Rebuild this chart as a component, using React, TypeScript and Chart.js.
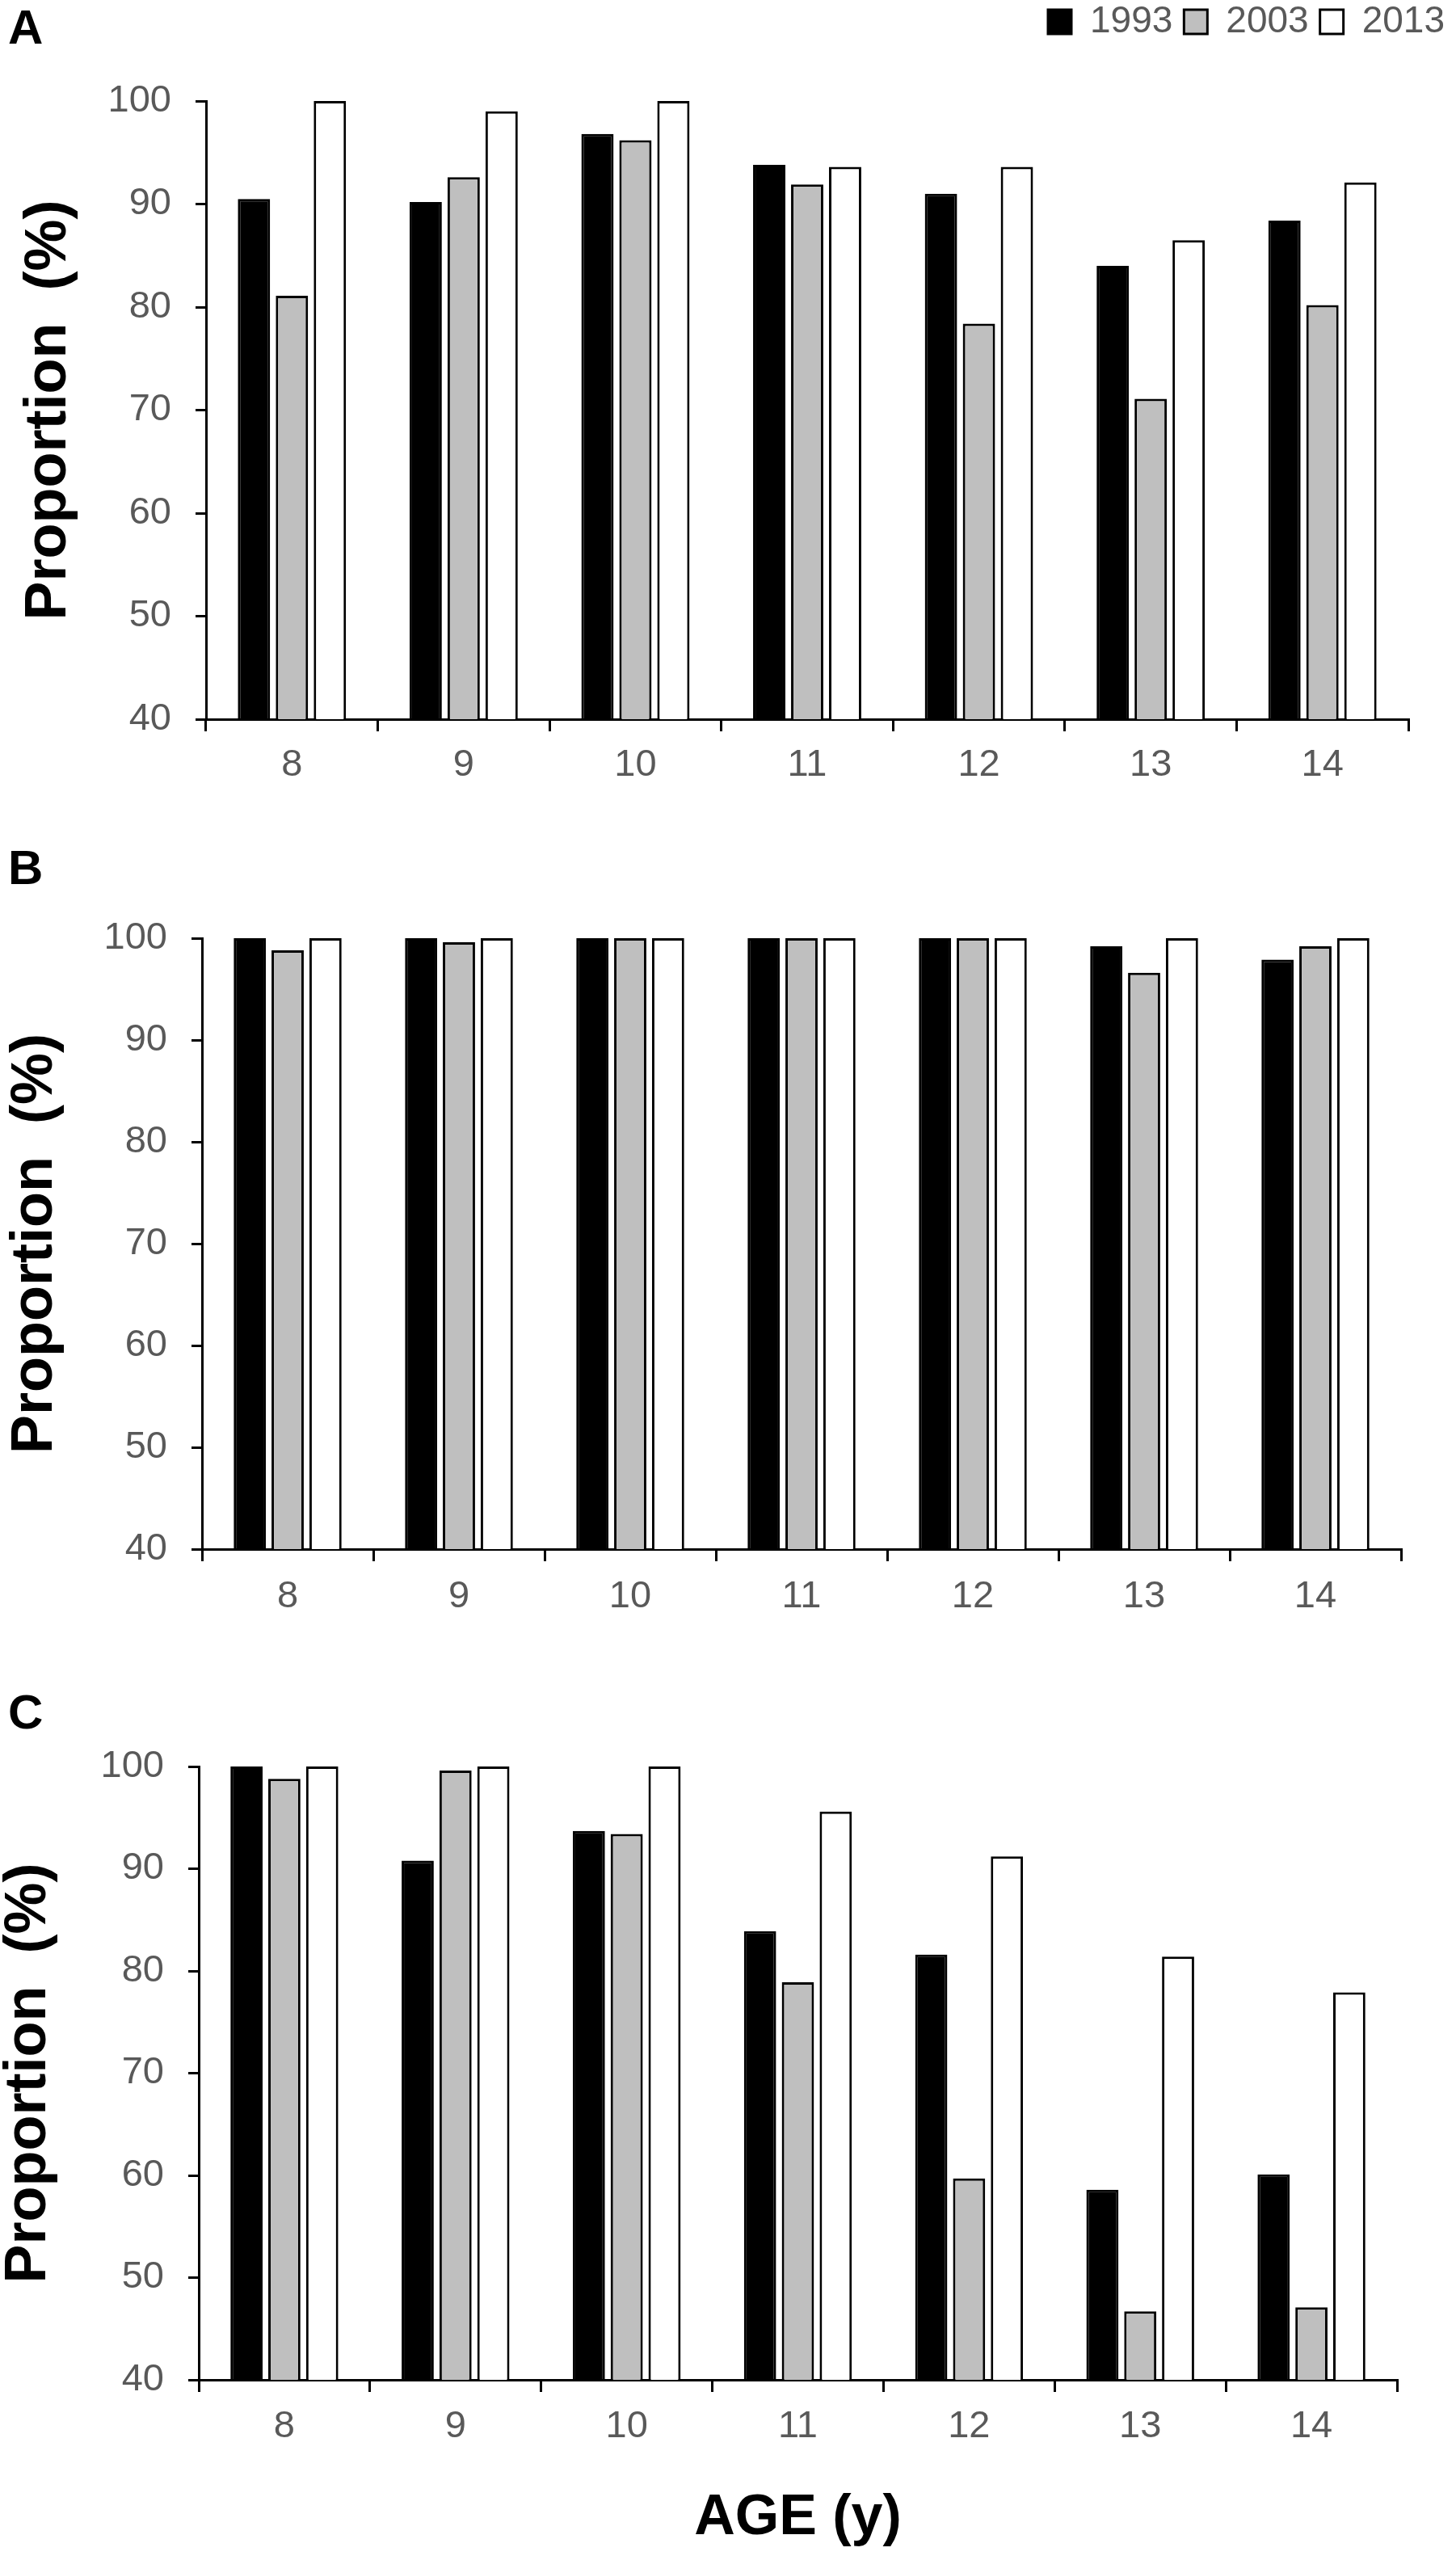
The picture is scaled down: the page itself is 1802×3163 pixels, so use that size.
import React, { useEffect, useRef } from 'react';
import { Chart, registerables } from 'chart.js';
import type { ChartConfiguration, Scale } from 'chart.js';

Chart.register(...registerables);

// ages on the x axis, one group of three bars each
const ages = ['8', '9', '10', '11', '12', '13', '14'];
const years = ['1993', '2003', '2013'];
const yearFills = ['#000000', '#bfbfbf', '#ffffff'];

// panel A
const a1993 = [90.5, 90.2, 96.8, 93.8, 91.0, 84.0, 88.4];
const a2003 = [81.1, 92.6, 96.2, 91.9, 78.4, 71.1, 80.2];
const a2013 = [100, 99.0, 100, 93.6, 93.6, 86.5, 92.1];

// panel B
const b1993 = [100, 100, 100, 100, 100, 99.2, 97.9];
const b2003 = [98.8, 99.6, 100, 100, 100, 96.6, 99.2];
const b2013 = [100, 100, 100, 100, 100, 100, 100];

// panel C
const c1993 = [100, 90.8, 93.7, 83.9, 81.6, 58.6, 60.1];
const c2003 = [98.8, 99.6, 93.4, 78.9, 59.7, 46.7, 47.1];
const c2013 = [100, 100, 100, 95.6, 91.2, 81.4, 77.9];

const yMin = 40;
const yMax = 100;
const yStep = 10;

const PAGE_W = 1802;
const FONT = '"Liberation Sans", Arial, Helvetica, sans-serif';
const GREY = '#595959';

interface PanelProps {
  letter: string;
  values: number[][];
  top: number; // canvas top on page
  height: number; // canvas height
  areaTop: number; // chart area, canvas coords
  areaBottom: number;
  areaLeft: number;
  areaRight: number;
  titlePad: number;
  tickPad: number;
  letterTop: number;
  legend?: boolean;
  xTitle?: string;
}

const Panel: React.FC<PanelProps> = (p) => {
  const chartRef = useRef<HTMLCanvasElement | null>(null);
  const chartInstance = useRef<Chart | null>(null);

  useEffect(() => {
    if (!chartRef.current) return;
    if (chartInstance.current) chartInstance.current.destroy();

    const scales: any = {
      x: {
        type: 'category',
        grid: {
          display: true,
          drawOnChartArea: false,
          drawTicks: true,
          tickLength: 15,
          color: '#000',
          lineWidth: 3,
          offset: true,
        },
        border: { display: true, color: '#000', width: 3 },
        ticks: {
          color: GREY,
          font: { family: FONT, size: 47 },
          padding: p.tickPad,
          maxRotation: 0,
          autoSkip: false,
        },
        title: p.xTitle
          ? {
              display: true,
              text: p.xTitle,
              color: '#000',
              font: { family: FONT, size: 70, weight: 'bold' },
              padding: { top: 0, bottom: 4 },
            }
          : { display: false },
        afterFit: (s: Scale) => {
          s.height = p.height - p.areaBottom;
        },
      },
      y: {
        min: yMin,
        max: yMax,
        ticks: {
          stepSize: yStep,
          color: GREY,
          font: { family: FONT, size: 47 },
          padding: 30,
        },
        grid: {
          drawOnChartArea: false,
          drawTicks: true,
          tickLength: 13,
          color: '#000',
          lineWidth: 3,
        },
        border: { display: true, color: '#000', width: 3 },
        title: {
          display: true,
          text: 'Proportion  (%)',
          color: '#000',
          font: { family: FONT, size: 72, weight: 'bold', lineHeight: 1 },
          padding: { top: p.titlePad, bottom: 0 },
        },
        afterFit: (s: Scale) => {
          s.width = p.areaLeft;
        },
      },
    };

    let padding: any = { top: p.areaTop, right: PAGE_W - p.areaRight, left: 0, bottom: 0 };
    if (p.legend) {
      // blank scales keep the plot where it is while the legend sits above / to the right
      padding = { top: 0, right: 0, left: 0, bottom: 0 };
      scales.topGap = {
        type: 'linear',
        position: 'top',
        grid: { display: false, drawTicks: false },
        border: { display: false },
        ticks: { display: false },
        afterFit: (s: Scale) => {
          const lg = (s.chart as any).legend;
          s.height = p.areaTop - (lg ? lg.height : 0);
        },
      };
      scales.rightGap = {
        type: 'linear',
        position: 'right',
        grid: { display: false, drawTicks: false },
        border: { display: false },
        ticks: { display: false },
        afterFit: (s: Scale) => {
          s.width = PAGE_W - p.areaRight;
        },
      };
    }

    const config: ChartConfiguration<'bar', number[], string> = {
      type: 'bar',
      data: {
        labels: ages,
        datasets: years.map((y, i) => ({
          label: y,
          data: [...p.values[i]],
          backgroundColor: yearFills[i],
          borderColor: '#000',
          borderWidth: 3,
          categoryPercentage: 0.663,
          barPercentage: 0.85,
          xAxisID: 'x',
          yAxisID: 'y',
        })),
      },
      options: {
        responsive: true,
        maintainAspectRatio: false,
        animation: false,
        events: [],
        layout: { padding },
        plugins: {
          tooltip: { enabled: false },
          title: { display: false },
          legend: {
            display: !!p.legend,
            position: 'top',
            align: 'end',
            labels: {
              boxWidth: 29,
              boxHeight: 30,
              padding: 14,
              color: GREY,
              font: { family: FONT, size: 46 },
            },
          },
        },
        scales,
      },
    };

    chartInstance.current = new Chart(chartRef.current, config);

    return () => {
      if (chartInstance.current) {
        chartInstance.current.destroy();
        chartInstance.current = null;
      }
    };
  }, [p]);

  return (
    <>
      <div
        style={{
          position: 'absolute',
          left: 0,
          top: p.top,
          width: PAGE_W,
          height: p.height,
        }}
      >
        <canvas ref={chartRef} style={{ display: 'block' }} />
      </div>
      <div
        style={{
          position: 'absolute',
          left: 10,
          top: p.letterTop,
          fontFamily: FONT,
          fontWeight: 'bold',
          fontSize: 60,
          lineHeight: 1,
          color: '#000',
        }}
      >
        {p.letter}
      </div>
    </>
  );
};

const panelA: PanelProps = {
  letter: 'A',
  values: [a1993, a2003, a2013],
  top: -10,
  height: 1010,
  areaTop: 135,
  areaBottom: 900,
  areaLeft: 255,
  areaRight: 1743,
  titlePad: 25,
  tickPad: 14,
  letterTop: 4,
  legend: true,
};

const panelB: PanelProps = {
  letter: 'B',
  values: [b1993, b2003, b2013],
  top: 1000,
  height: 1000,
  areaTop: 161,
  areaBottom: 917,
  areaLeft: 250,
  areaRight: 1734,
  titlePad: 8,
  tickPad: 16,
  letterTop: 1044,
};

const panelC: PanelProps = {
  letter: 'C',
  values: [c1993, c2003, c2013],
  top: 2000,
  height: 1163,
  areaTop: 186,
  areaBottom: 945,
  areaLeft: 246,
  areaRight: 1729,
  titlePad: 0,
  tickPad: 15,
  letterTop: 2089,
  xTitle: 'AGE (y)',
};

export default function App() {
  return (
    <div
      style={{
        position: 'absolute',
        left: 0,
        top: 0,
        width: PAGE_W,
        height: 3163,
        background: '#fff',
        overflow: 'hidden',
      }}
    >
      <Panel {...panelA} />
      <Panel {...panelB} />
      <Panel {...panelC} />
    </div>
  );
}
